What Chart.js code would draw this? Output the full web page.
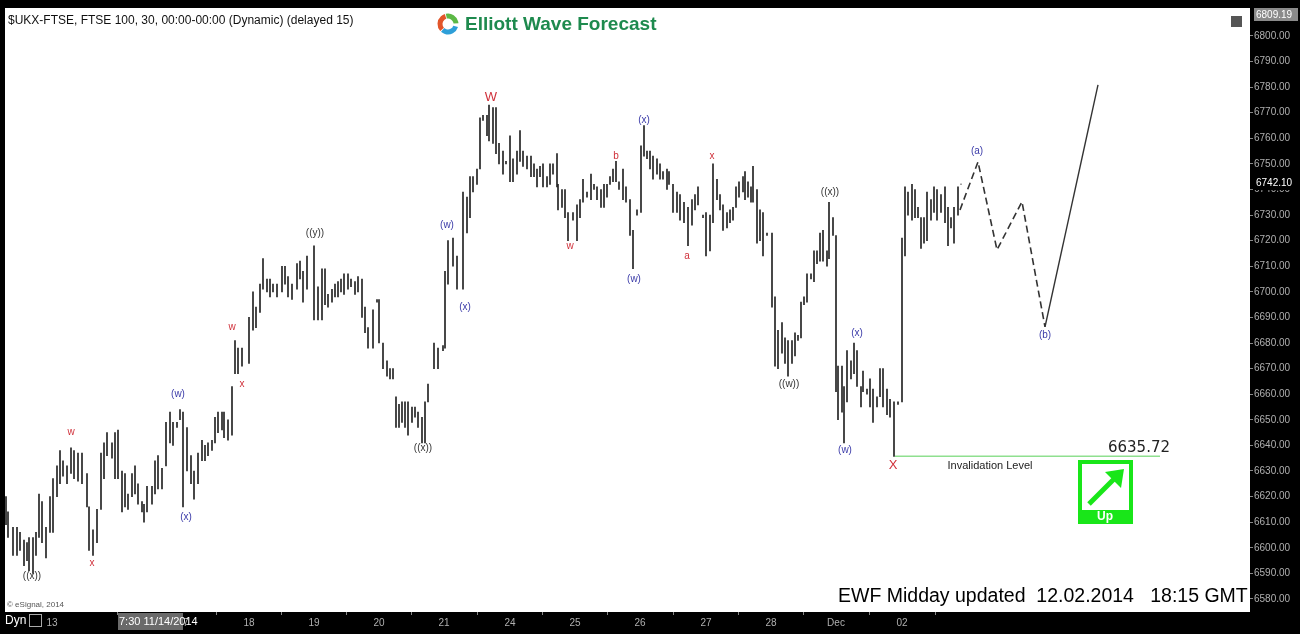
<!DOCTYPE html>
<html>
<head>
<meta charset="utf-8">
<script src="https://cdn.jsdelivr.net/npm/chart.js@4.4.0/dist/chart.umd.min.js"></script>
<style>
html,body{margin:0;padding:0;background:#000;}
#wrap{width:1300px;height:634px;position:relative;}
</style>
</head>
<body>
<div id="wrap"><canvas id="c"></canvas></div>
<script>
// 30 min bars, time position on the session axis, high / low
const barTime = [6,8,13,17,20,24,27,29,33,36,39,42,46,50,53,57,60,63,67,71,74,78,82,87,89,93,97,101,104,107,112,115,118,122,125,128,132,135,138,142,144,147,152,155,158,162,166,170,173,177,180,183,187,191,194,198,202,205,208,212,215,218,222,224,228,232,235,238,242,249,253,256,260,263,267,270,273,277,282,285,288,292,297,300,303,307,314,318,322,325,328,332,335,338,341,344,348,351,355,358,362,365,368,373,377,379,383,387,390,393,396,399,402,405,408,412,415,418,422,425,428,434,438,443,445,448,453,457,463,467,470,473,477,480,483,487,489,493,496,499,503,506,510,513,517,520,523,527,531,534,537,540,543,547,550,553,557,558,562,565,568,573,577,580,583,587,591,594,597,601,604,607,610,613,616,619,623,626,630,633,637,641,644,647,650,653,657,660,663,667,669,673,677,680,684,688,692,695,698,703,706,710,713,717,720,723,727,730,733,736,739,743,745,748,751,753,757,760,763,767,772,775,778,782,785,788,792,795,798,801,804,807,811,814,817,820,823,827,829,833,836,838,842,844,847,851,854,857,861,863,867,870,873,877,880,883,887,890,894,898,902,905,908,912,915,918,921,924,927,931,934,937,941,945,948,951,954,958,961];
const barHigh = [6620,6614,6608,6608,6606,6603,6602,6604,6604,6606,6621,6618,6608,6620,6627,6632,6638,6634,6632,6639,6638,6637,6637,6629,6616,6607,6615,6637,6641,6645,6641,6645,6646,6630,6629,6621,6629,6632,6625,6618,6617,6624,6624,6634,6636,6631,6649,6653,6649,6649,6654,6653,6647,6636,6630,6637,6642,6640,6641,6642,6651,6653,6653,6653,6650,6663,6681,6678,6678,6690,6700,6694,6703,6713,6705,6705,6703,6703,6710,6710,6706,6703,6711,6712,6708,6714,6718,6702,6709,6709,6699,6701,6703,6704,6705,6707,6707,6705,6704,6706,6705,6694,6686,6693,6697,6697,6680,6673,6670,6670,6659,6656,6657,6657,6657,6655,6655,6653,6651,6657,6664,6680,6678,6679,6708,6720,6721,6714,6739,6737,6745,6745,6748,6768,6769,6769,6773,6772,6772,6758,6755,6751,6761,6752,6755,6763,6755,6753,6753,6750,6748,6749,6750,6745,6750,6750,6754,6742,6740,6740,6731,6731,6734,6736,6744,6739,6746,6742,6741,6740,6742,6742,6745,6748,6751,6743,6748,6741,6736,6724,6732,6757,6765,6755,6755,6753,6752,6750,6747,6748,6747,6742,6739,6738,6735,6733,6736,6738,6741,6730,6731,6730,6750,6744,6738,6734,6731,6732,6733,6741,6743,6745,6747,6743,6741,6749,6740,6732,6731,6723,6723,6698,6685,6688,6682,6681,6681,6684,6683,6696,6698,6707,6707,6716,6716,6723,6724,6716,6735,6729,6722,6671,6671,6663,6677,6673,6680,6677,6663,6669,6662,6666,6662,6659,6670,6670,6662,6658,6657,6657,6721,6741,6739,6742,6740,6733,6729,6729,6739,6736,6741,6740,6738,6741,6733,6729,6733,6741,6742.1];
const barLow = [6609,6604,6597,6597,6599,6593,6595,6591,6590,6597,6604,6602,6596,6606,6606,6620,6625,6628,6625,6629,6627,6626,6625,6616,6599,6597,6602,6615,6627,6636,6635,6627,6627,6614,6616,6615,6620,6621,6617,6614,6610,6614,6617,6621,6623,6623,6632,6641,6640,6647,6650,6616,6630,6625,6619,6625,6634,6634,6636,6638,6641,6645,6646,6643,6642,6644,6668,6668,6671,6672,6685,6686,6692,6701,6700,6698,6700,6698,6700,6703,6698,6697,6701,6705,6696,6701,6689,6689,6689,6695,6694,6696,6698,6698,6700,6699,6701,6702,6699,6700,6690,6684,6678,6678,6696,6680,6670,6667,6666,6666,6647,6647,6649,6647,6644,6649,6651,6647,6641,6641,6657,6670,6670,6677,6678,6703,6710,6701,6701,6723,6729,6739,6742,6748,6767,6761,6759,6758,6754,6750,6746,6750,6743,6743,6746,6751,6749,6748,6745,6745,6741,6745,6741,6741,6742,6746,6741,6732,6733,6729,6720,6728,6720,6729,6735,6737,6736,6740,6736,6733,6733,6737,6742,6743,6743,6740,6736,6735,6722,6709,6730,6731,6753,6752,6748,6744,6746,6744,6744,6740,6742,6731,6731,6728,6727,6718,6726,6732,6734,6729,6714,6716,6727,6736,6732,6724,6725,6727,6728,6733,6737,6739,6736,6737,6735,6735,6719,6720,6714,6722,6694,6671,6670,6676,6672,6667,6672,6675,6681,6682,6695,6696,6705,6704,6711,6712,6712,6710,6713,6722,6661,6650,6653,6641,6657,6666,6668,6663,6655,6661,6660,6655,6649,6655,6659,6655,6652,6651,6635.72,6656,6657,6714,6730,6728,6729,6729,6717,6719,6720,6728,6731,6728,6731,6727,6718,6725,6719,6730,6742.1];

// projected path
const projTime = [960,978,997,1022,1045];
const projPrice = [6732,6750.8,6716.4,6735.2,6686.3];
const targetTime = [1045,1098];
const targetPrice = [6686.3,6780.9];

const invalidation = 6635.72;
const invTime = [895,1160];

const dayTicks = [52,183,249,314,379,444,510,575,640,706,771,836,902];
const dayLabels = ['13','17','18','19','20','21','24','25','26','27','28','Dec','02'];
const priceTicks = [6580,6590,6600,6610,6620,6630,6640,6650,6660,6670,6680,6690,6700,6710,6720,6730,6740,6750,6760,6770,6780,6790,6800];

// wave labels: text, time, price, colour, size
const RED = '#d0303a', BLUE = '#3a3aa8', BLK = '#333';
const waveLabels = [
  ['((x))',32,6589,BLK,10],['w',71,6645,RED,10],['x',92,6594,RED,10],
  ['(w)',178,6660,BLUE,10],['(x)',186,6612,BLUE,10],['w',232,6686,RED,10],
  ['x',242,6664,RED,10],['((y))',315,6723,BLK,10],['((x))',423,6639,BLK,10],
  ['(w)',447,6726,BLUE,10],['(x)',465,6694,BLUE,10],['W',491,6776,RED,13],
  ['w',570,6718,RED,10],['b',616,6753,RED,10],['(x)',644,6767,BLUE,10],
  ['(w)',634,6705,BLUE,10],['x',712,6753,RED,10],['a',687,6714,RED,10],
  ['((x))',830,6739,BLK,10],['((w))',789,6664,BLK,10],['(x)',857,6684,BLUE,10],
  ['(w)',845,6638,BLUE,10],['X',893,6632,RED,13],['(a)',977,6755,BLUE,10],
  ['(b)',1045,6683,BLUE,10]
];

const bars = barTime.map((t, i) => ({x: t, y: [barLow[i], barHigh[i]]}));

const frame = {
  id: 'frame',
  beforeDraw(chart) {
    const {ctx, chartArea: a} = chart;
    ctx.save();
    ctx.fillStyle = '#000';
    ctx.fillRect(0, 0, chart.width, chart.height);
    ctx.fillStyle = '#fff';
    ctx.fillRect(a.left, a.top, a.right - a.left, a.bottom - a.top);
    ctx.restore();
  },
  afterDraw(chart) {
    const {ctx, chartArea: a, scales: {x, y}} = chart;
    ctx.save();
    ctx.textBaseline = 'middle';
    // wave labels
    ctx.textAlign = 'center';
    waveLabels.forEach(([t, tx, p, c, s]) => {
      ctx.fillStyle = c;
      ctx.font = s + 'px Arial, "Liberation Sans"';
      ctx.fillText(t, x.getPixelForValue(tx), y.getPixelForValue(p));
    });
    // invalidation text
    ctx.fillStyle = '#222';
    ctx.font = '11px Arial, "Liberation Sans"';
    ctx.fillText('Invalidation Level', x.getPixelForValue(990), y.getPixelForValue(invalidation) + 10);
    ctx.font = '15px "DejaVu Sans", Arial';
    ctx.fillText('6635.72', x.getPixelForValue(1139), y.getPixelForValue(invalidation) - 8);
    // Up box
    const bx = 1078, by = 460;
    ctx.fillStyle = '#19e619';
    ctx.fillRect(bx, by, 55, 64);
    ctx.fillStyle = '#fff';
    ctx.fillRect(bx + 4, by + 4, 47, 46);
    ctx.strokeStyle = '#19e619';
    ctx.lineWidth = 5;
    ctx.beginPath(); ctx.moveTo(bx + 11, by + 44); ctx.lineTo(bx + 40, by + 15); ctx.stroke();
    ctx.fillStyle = '#19e619';
    ctx.beginPath(); ctx.moveTo(bx + 46, by + 9); ctx.lineTo(bx + 27, by + 12); ctx.lineTo(bx + 43, by + 28); ctx.closePath(); ctx.fill();
    ctx.fillStyle = '#fff';
    ctx.font = 'bold 12px Arial, "Liberation Sans"';
    ctx.fillText('Up', bx + 27, by + 57);
    // title and logo
    ctx.textAlign = 'left';
    ctx.fillStyle = '#111';
    ctx.font = '12px Arial, "Liberation Sans"';
    ctx.fillText('$UKX-FTSE, FTSE 100, 30, 00:00-00:00 (Dynamic) (delayed 15)', 8, 21);
    const lx = 448, ly = 24;
    ctx.lineWidth = 5;
    [['#2e9fd8', 0.3, 2.3], ['#e2552a', 2.4, 4.4], ['#5cb846', 4.5, 6.2]].forEach(([c, s, e]) => {
      ctx.strokeStyle = c; ctx.beginPath(); ctx.arc(lx, ly, 8, s, e); ctx.stroke();
    });
    ctx.fillStyle = '#1e8a4e';
    ctx.font = 'bold 19px Arial, "Liberation Sans"';
    ctx.fillText('Elliott Wave Forecast', 465, ly + 1);
    // bottom stamp
    ctx.fillStyle = '#000';
    ctx.font = '19.5px Arial, "Liberation Sans"';
    ctx.fillText('EWF Midday updated  12.02.2014   18:15 GMT', 838, 597);
    ctx.fillStyle = '#555';
    ctx.font = '8px Arial, "Liberation Sans"';
    ctx.fillText('© eSignal, 2014', 7, 605);
    // restore icon
    ctx.fillStyle = '#555';
    ctx.fillRect(1231, 16, 11, 11);
    // right axis flags
    ctx.font = '10px Arial, "Liberation Sans"';
    ctx.fillStyle = '#8a8a8a';
    ctx.fillRect(1254, 8, 44, 13);
    ctx.fillStyle = '#fff';
    ctx.fillText('6809.19', 1256, 15);
    ctx.fillStyle = '#000';
    ctx.fillRect(1254, 176, 44, 14);
    ctx.fillStyle = '#fff';
    ctx.fillText('6742.10', 1256, 183);
    // bottom left Dyn & time box
    ctx.fillStyle = '#fff';
    ctx.font = '12px Arial, "Liberation Sans"';
    ctx.fillText('Dyn', 5, 621);
    ctx.strokeStyle = '#aaa'; ctx.lineWidth = 1;
    ctx.strokeRect(29.5, 614.5, 12, 12);
    ctx.fillStyle = '#6a6a6a';
    ctx.fillRect(118, 613, 65, 17);
    ctx.fillStyle = '#fff';
    ctx.font = '11px Arial, "Liberation Sans"';
    ctx.fillText('7:30 11/14/2014', 119, 622);
    ctx.restore();
  }
};

new Chart(document.getElementById('c'), {
  type: 'bar',
  data: {
    datasets: [
      {type: 'bar', data: bars, backgroundColor: '#222', barThickness: 1, grouped: false, order: 3},
      {type: 'line', data: projTime.map((t, i) => ({x: t, y: projPrice[i]})), borderColor: '#333', borderWidth: 1.6, borderDash: [7, 4], pointRadius: 0, order: 1},
      {type: 'line', data: targetTime.map((t, i) => ({x: t, y: targetPrice[i]})), borderColor: '#333', borderWidth: 1.4, pointRadius: 0, order: 1},
      {type: 'line', data: invTime.map(t => ({x: t, y: invalidation})), borderColor: '#8fe08f', borderWidth: 1.5, pointRadius: 0, order: 2}
    ]
  },
  options: {
    responsive: true,
    maintainAspectRatio: false,
    animation: false,
    layout: {padding: {left: 5, top: 8, right: 0, bottom: 0}},
    plugins: {legend: {display: false}, tooltip: {enabled: false}},
    scales: {
      x: {
        type: 'linear', min: 5, max: 1250, offset: false,
        afterBuildTicks: s => { s.ticks = dayTicks.map(v => ({value: v})); },
        afterFit: s => { s.height = 22; },
        ticks: {
          autoSkip: false, maxRotation: 0, color: '#b0b0b0', font: {size: 10, family: 'Arial'},
          padding: 2, callback: (v) => dayLabels[dayTicks.indexOf(v)]
        },
        grid: {display: true, drawOnChartArea: false, color: '#888', tickLength: 3},
        border: {display: false}
      },
      y: {
        position: 'right', min: 6574.9, max: 6810.9,
        afterBuildTicks: s => { s.ticks = priceTicks.map(v => ({value: v})); },
        afterFit: s => { s.width = 50; },
        ticks: {color: '#b0b0b0', font: {size: 10, family: 'Arial'}, padding: 1, callback: v => v.toFixed(2)},
        grid: {display: true, drawOnChartArea: false, color: '#888', tickLength: 3},
        border: {display: false}
      }
    }
  },
  plugins: [frame]
});
</script>
</body>
</html>
